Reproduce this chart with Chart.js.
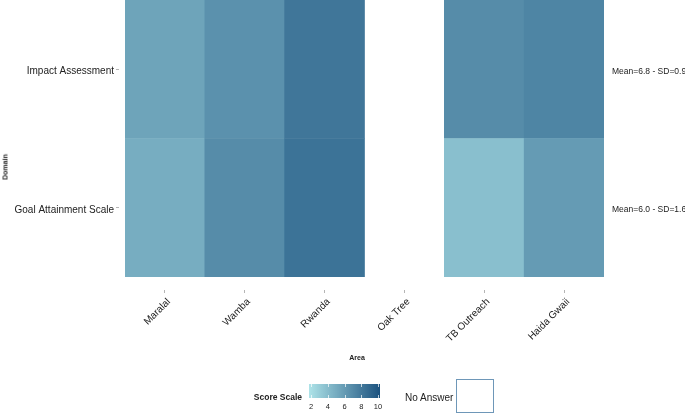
<!DOCTYPE html>
<html>
<head>
<meta charset="utf-8">
<script src="https://cdn.jsdelivr.net/npm/chart.js@4.4.1/dist/chart.umd.min.js"></script>
<style>
  html, body { margin: 0; padding: 0; background: #fff; }
  #wrap { position: relative; width: 685px; height: 414px; font-family: "Liberation Sans", Arial, sans-serif; color: #222; }
  #chart { position: absolute; left: 0; top: 0; }
  .abs { position: absolute; white-space: nowrap; }
  #domainTitle { left: 5px; top: 167px; font-size: 7px; font-weight: bold; transform: translate(-50%, -50%) rotate(-90deg); }
  #areaTitle { left: 357px; top: 357px; font-size: 7px; font-weight: bold; transform: translate(-50%, -50%); }
  #scaleTitle { right: 383px; top: 397px; font-size: 8.5px; font-weight: bold; transform: translateY(-50%); }
  #scaleBar { left: 309px; top: 384px; width: 71px; height: 14px; }
  .scaleTick { position: absolute; width: 1px; height: 3px; background: rgba(255,255,255,0.7); }
  .scaleLabel { top: 402px; font-size: 7.5px; transform: translateX(-50%); }
  #noAnswer { left: 405px; top: 397px; font-size: 10px; transform: translateY(-50%); }
  #noAnswerBox { left: 456px; top: 379px; width: 36px; height: 32px; border: 1.5px solid #6e97b8; background: #fff; }
</style>
</head>
<body>
<div id="wrap">
  <canvas id="chart" width="685" height="414"></canvas>
  <div id="domainTitle" class="abs">Domain</div>
  <div id="areaTitle" class="abs">Area</div>
  <div id="scaleTitle" class="abs">Score Scale</div>
  <div id="scaleBar" class="abs"></div>
  <div id="noAnswer" class="abs">No Answer</div>
  <div id="noAnswerBox" class="abs"></div>
</div>
<script>
// ---- data ----
const areas = ['Maralal', 'Wamba', 'Rwanda', 'Oak Tree', 'TB Outreach', 'Haida Gwaii'];
const domains = ['Goal Attainment Scale', 'Impact Assessment']; // bottom row first
const goalScores = [5.0, 6.8, 8.2, null, 4.0, 6.0];
const impactScores = [5.5, 6.5, 8.0, null, 6.8, 7.2];
const scaleTicks = [2, 4, 6, 8, 10];

const rowScores = [goalScores, impactScores];

// colour scale: light cyan (2) -> dark blue (10)
const lowColor = [174, 227, 232];
const highColor = [27, 82, 127];
function scoreColor(v) {
    const t = (v - scaleTicks[0]) / (scaleTicks[scaleTicks.length - 1] - scaleTicks[0]);
    const c = lowColor.map((lo, i) => Math.round(lo + (highColor[i] - lo) * t));
    return `rgb(${c[0]}, ${c[1]}, ${c[2]})`;
}

// mean / sd per domain for the right-hand labels
function stats(arr) {
    const vals = arr.filter(v => v != null);
    const mean = vals.reduce((a, b) => a + b, 0) / vals.length;
    const sd = Math.sqrt(vals.reduce((a, b) => a + (b - mean) * (b - mean), 0) / (vals.length - 1));
    return `Mean=${mean.toFixed(1)} - SD=${sd.toFixed(1)}`;
}
const statLabels = rowScores.map(stats);

const rowTicks = s => { s.ticks = domains.map((d, i) => ({ value: i + 0.5 })); };

// fixed axis sizes so the plot area lands where the original one is
function fixSize(w, h) {
    return s => {
        if (w != null) s.width = w;
        if (h != null) s.height = h;
        s.paddingTop = 0; s.paddingBottom = 0; s.paddingLeft = 0; s.paddingRight = 0;
    };
}

// ---- legend (colour bar) ----
const bar = document.getElementById('scaleBar');
bar.style.background = `linear-gradient(to right, ${scaleTicks.map(scoreColor).join(', ')})`;
const wrap = document.getElementById('wrap');
scaleTicks.forEach(v => {
    const x = 311 + (v - 2) / 8 * 67;
    const lab = document.createElement('div');
    lab.className = 'abs scaleLabel';
    lab.style.left = x + 'px';
    lab.textContent = v;
    wrap.appendChild(lab);
    ['0px', '11px'].forEach(top => {
        const t = document.createElement('div');
        t.className = 'scaleTick';
        t.style.left = (x - 309) + 'px';
        t.style.top = top;
        bar.appendChild(t);
    });
});

// ---- chart ----
const font = '"Liberation Sans", Arial, sans-serif';
const ctx = document.getElementById('chart').getContext('2d');
new Chart(ctx, {
    type: 'bar',
    data: {
        labels: areas,
        datasets: rowScores.map((scores, r) => ({
            label: domains[r],
            data: scores.map(v => v == null ? null : [r, r + 1]),
            backgroundColor: scores.map(v => v == null ? 'rgba(0,0,0,0)' : scoreColor(v)),
            borderWidth: 0,
            categoryPercentage: 1,
            barPercentage: 1
        }))
    },
    options: {
        responsive: false,
        animation: false,
        layout: { padding: { top: 0, bottom: 50, left: 0, right: 0 } },
        plugins: { legend: { display: false }, tooltip: { enabled: false } },
        scales: {
            x: {
                stacked: true,
                offset: true,
                grid: { display: true, offset: false, drawOnChartArea: false, tickLength: 16, tickColor: '#b5b5b5', tickWidth: 1, tickBorderDash: [0, 13, 3, 100] },
                border: { display: false },
                ticks: { autoSkip: false, minRotation: 45, maxRotation: 45, padding: 3, labelOffset: 4, color: '#222', font: { family: font, size: 10 } },
                afterFit: fixSize(null, 87)
            },
            y: {
                type: 'linear',
                position: 'left',
                stacked: false,
                min: 0,
                max: 2,
                afterBuildTicks: rowTicks,
                grid: { display: true, drawOnChartArea: false, tickLength: 9, tickColor: '#b5b5b5', tickWidth: 1, tickBorderDash: [3, 100] },
                border: { display: false },
                ticks: { padding: 2, labelOffset: 2, color: '#222', font: { family: font, size: 10 }, callback: v => domains[Math.floor(v)] },
                afterFit: fixSize(125, null)
            },
            y2: {
                type: 'linear',
                position: 'right',
                min: 0,
                max: 2,
                afterBuildTicks: rowTicks,
                grid: { display: false, drawTicks: false },
                border: { display: false },
                ticks: { padding: 8, labelOffset: 2, color: '#222', font: { family: font, size: 8.5 }, callback: v => statLabels[Math.floor(v)] },
                afterFit: fixSize(81, null)
            }
        }
    }
});
</script>
</body>
</html>
